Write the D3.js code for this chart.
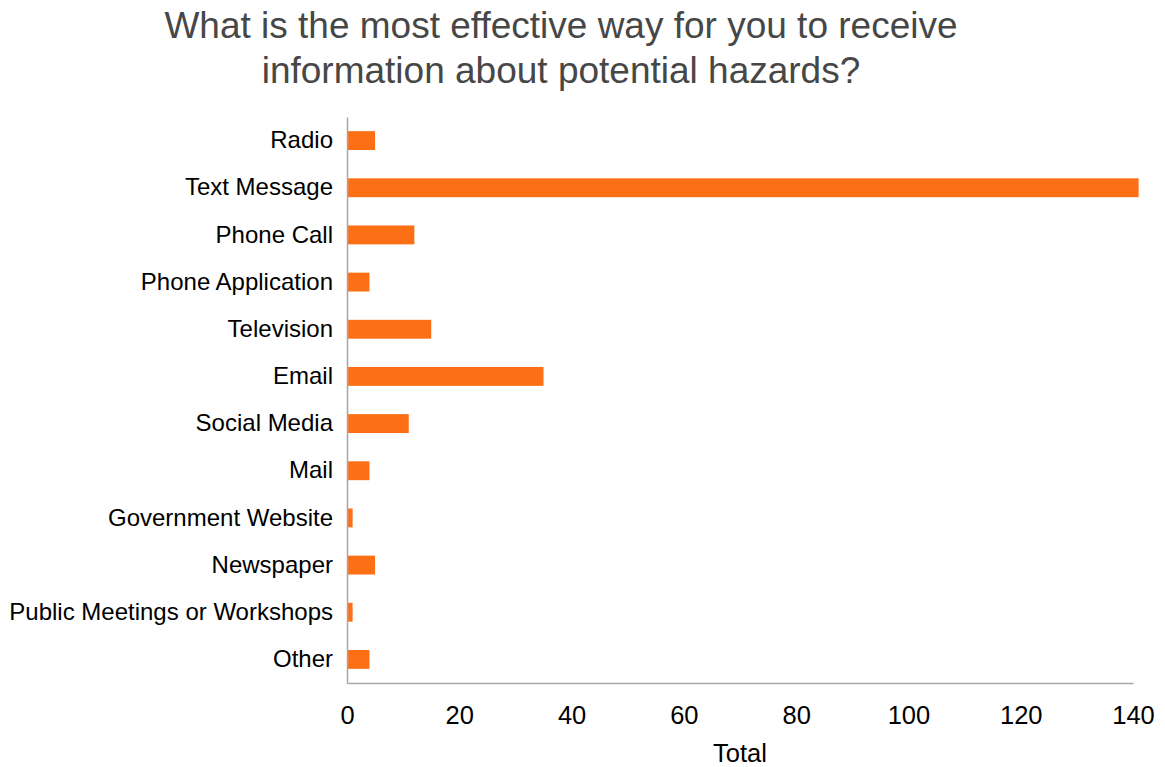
<!DOCTYPE html>
<html>
<head>
<meta charset="utf-8">
<script src="https://cdn.jsdelivr.net/npm/d3@7"></script>
<style>
  body { margin: 0; background: #fff; }
  svg { font-family: "Liberation Sans", Arial, sans-serif; }
</style>
</head>
<body>
<svg id="chart" width="1165" height="767"></svg>
<script>
// Données du graphique
const categories = ["Radio", "Text Message", "Phone Call", "Phone Application", "Television", "Email",
  "Social Media", "Mail", "Government Website", "Newspaper", "Public Meetings or Workshops", "Other"];
const totals = [5, 141, 12, 4, 15, 35, 11, 4, 1, 5, 1, 4];
const xTicks = [0, 20, 40, 60, 80, 100, 120, 140];
const titleLines = ["What is the most effective way for you to receive", "information about potential hazards?"];

var svg = d3.select("#chart");
var margin = { left: 347, right: 32, top: 117, bottom: 84 };
var width = 1165 - margin.left - margin.right;
var height = 767 - margin.top - margin.bottom;

var x = d3.scaleLinear().domain([0, 140]).range([0, width]);
var y = d3.scaleBand().domain(categories).range([0, height]).paddingInner(0.6).paddingOuter(0.3);

var g = svg.append("g").attr("transform", `translate(${margin.left}, ${margin.top})`);

// Barres
g.selectAll(".bar")
  .data(categories)
  .enter()
  .append("rect")
  .attr("class", "bar")
  .attr("x", 0)
  .attr("y", d => y(d))
  .attr("width", (d, i) => x(totals[i]))
  .attr("height", y.bandwidth())
  .attr("fill", "#FD6F15");

// Axe horizontal
var xAxis = g.append("g")
  .attr("transform", `translate(0, ${height})`)
  .call(d3.axisBottom(x).tickValues(xTicks).tickSize(0).tickPadding(23));
xAxis.select(".domain").attr("stroke", "#a6a6a6").attr("stroke-width", 1.5);
xAxis.selectAll("text").attr("font-size", 25.5).attr("fill", "#000")
  .attr("font-family", "Liberation Sans, Arial, sans-serif");

// Axe vertical
var yAxis = g.append("g")
  .call(d3.axisLeft(y).tickSize(0).tickPadding(14));
yAxis.select(".domain").attr("stroke", "#a6a6a6").attr("stroke-width", 1.5);
yAxis.selectAll("text").attr("font-size", 24).attr("fill", "#000")
  .attr("font-family", "Liberation Sans, Arial, sans-serif");

// Titre
svg.append("g").selectAll("text")
  .data(titleLines)
  .enter()
  .append("text")
  .attr("x", 561)
  .attr("y", (d, i) => 38 + i * 45)
  .attr("text-anchor", "middle")
  .attr("font-size", 37)
  .attr("fill", "#474747")
  .text(d => d);

// Titre de l'axe
svg.append("text")
  .attr("x", margin.left + width / 2)
  .attr("y", 762)
  .attr("text-anchor", "middle")
  .attr("font-size", 25.5)
  .attr("fill", "#000")
  .text("Total");
</script>
</body>
</html>
